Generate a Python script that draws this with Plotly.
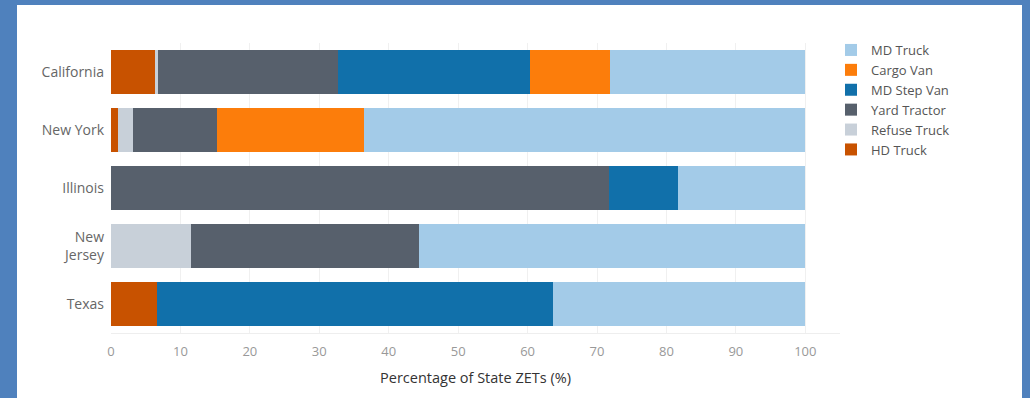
import plotly.graph_objects as go

states = ["California", "New York", "Illinois", "New<br>Jersey", "Texas"]

hd_truck     = [6.4, 1.0, 0.0, 0.0, 6.6]
refuse_truck = [0.3, 2.2, 0.0, 11.5, 0.0]
yard_tractor = [26.0, 12.1, 71.7, 32.9, 0.0]
md_step_van  = [27.7, 0.0, 10.0, 0.0, 57.0]
cargo_van    = [11.4, 21.2, 0.0, 0.0, 0.0]
md_truck     = [28.2, 63.5, 18.3, 55.6, 36.4]

series = [
    ("HD Truck", hd_truck, "#c85200"),
    ("Refuse Truck", refuse_truck, "#c8d0d9"),
    ("Yard Tractor", yard_tractor, "#57606c"),
    ("MD Step Van", md_step_van, "#1170aa"),
    ("Cargo Van", cargo_van, "#fc7d0b"),
    ("MD Truck", md_truck, "#a3cbe8"),
]

x_ticks = [0, 10, 20, 30, 40, 50, 60, 70, 80, 90, 100]

fig = go.Figure()
for name, vals, color in series:
    fig.add_trace(go.Bar(
        y=states, x=vals, name=name, orientation="h",
        marker=dict(color=color, line=dict(width=0)),
    ))

L, R, T, B = 111, 190, 43, 65
W, H = 1030, 398
pw, ph = W - L - R, H - T - B

def px_x(p):
    return (p - L) / pw

def px_y(p):
    return (H - B - p) / ph

fig.add_shape(type="rect", xref="paper", yref="paper",
              x0=px_x(17), x1=px_x(1022), y0=px_y(400), y1=px_y(5),
              fillcolor="white", line=dict(width=0), layer="below")

fig.update_layout(
    width=W, height=H,
    margin=dict(l=L, r=R, t=T, b=B),
    barmode="stack", bargap=0.24,
    paper_bgcolor="#4f81bd", plot_bgcolor="white",
    font=dict(family="Open Sans, sans-serif", size=13, color="#666"),
    legend=dict(traceorder="reversed", x=px_x(831), xanchor="left",
                y=px_y(35), yanchor="top", font=dict(size=13, color="#555"),
                itemwidth=30, tracegroupgap=0, bgcolor="rgba(0,0,0,0)"),
    xaxis=dict(range=[0, 105], tickvals=x_ticks, showgrid=True,
               gridcolor="#f0f0f0", zeroline=False, showline=True,
               linecolor="#eeeeee", tickfont=dict(size=13, color="#999"),
               ticklabelstandoff=6,
               title=dict(text="Percentage of State ZETs (%)",
                          font=dict(size=14.5, color="#333"), standoff=14)),
    yaxis=dict(autorange="reversed", showgrid=False, zeroline=False,
               tickfont=dict(size=14, color="#666"), ticklabelstandoff=6),
)

fig.write_html("out.html")
